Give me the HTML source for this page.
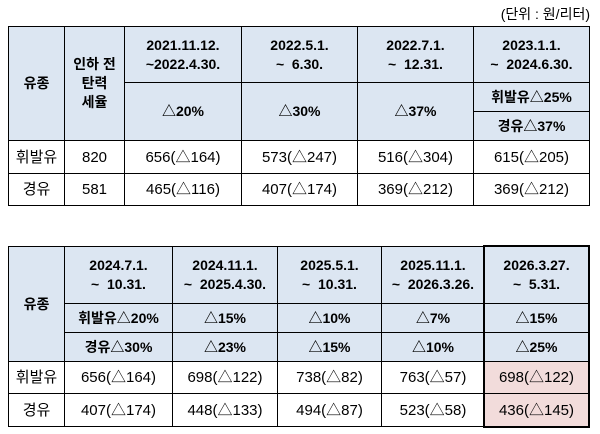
<!DOCTYPE html>
<html><head><meta charset="utf-8"><style>
body{margin:0;width:600px;height:434px;background:#fff;position:relative;font-family:"Liberation Sans","Noto Sans CJK KR","NanumGothic",sans-serif;color:#000;overflow:hidden}
.c{position:absolute;box-sizing:border-box;border:1px solid #000;display:flex;align-items:center;justify-content:center;text-align:center;font-size:15px;line-height:19px}
.h{background:#dce6f2;font-weight:bold;font-size:14px}
.p{background:#f2dcdb}
</style></head><body>
<div style="position:absolute;right:10px;top:4px;font-size:14px">(단위 : 원/리터)</div>

<!-- table 1 -->
<div class="c h" style="left:8px;top:26px;width:57px;height:115px">유종</div>
<div class="c h" style="left:64px;top:26px;width:61px;height:115px">인하 전<br>탄력<br>세율</div>
<div class="c h" style="left:124px;top:26px;width:118px;height:57px">2021.11.12.<br>~2022.4.30.</div>
<div class="c h" style="left:241px;top:26px;width:117px;height:57px">2022.5.1.<br>~&nbsp; 6.30.</div>
<div class="c h" style="left:357px;top:26px;width:117px;height:57px">2022.7.1.<br>~&nbsp; 12.31.</div>
<div class="c h" style="left:473px;top:26px;width:117px;height:57px">2023.1.1.<br>~&nbsp; 2024.6.30.</div>
<div class="c h" style="left:124px;top:82px;width:118px;height:59px">△20%</div>
<div class="c h" style="left:241px;top:82px;width:117px;height:59px">△30%</div>
<div class="c h" style="left:357px;top:82px;width:117px;height:59px">△37%</div>
<div class="c h" style="left:473px;top:82px;width:117px;height:30px">휘발유△25%</div>
<div class="c h" style="left:473px;top:111px;width:117px;height:30px">경유△37%</div>
<div class="c" style="left:8px;top:140px;width:57px;height:34px">휘발유</div>
<div class="c" style="left:64px;top:140px;width:61px;height:34px">820</div>
<div class="c" style="left:124px;top:140px;width:118px;height:34px">656(△164)</div>
<div class="c" style="left:241px;top:140px;width:117px;height:34px">573(△247)</div>
<div class="c" style="left:357px;top:140px;width:117px;height:34px">516(△304)</div>
<div class="c" style="left:473px;top:140px;width:117px;height:34px">615(△205)</div>
<div class="c" style="left:8px;top:173px;width:57px;height:33px">경유</div>
<div class="c" style="left:64px;top:173px;width:61px;height:33px">581</div>
<div class="c" style="left:124px;top:173px;width:118px;height:33px">465(△116)</div>
<div class="c" style="left:241px;top:173px;width:117px;height:33px">407(△174)</div>
<div class="c" style="left:357px;top:173px;width:117px;height:33px">369(△212)</div>
<div class="c" style="left:473px;top:173px;width:117px;height:33px">369(△212)</div>

<!-- table 2 -->
<div class="c h" style="left:8px;top:246px;width:57px;height:116px">유종</div>
<div class="c h" style="left:64px;top:246px;width:109px;height:58px">2024.7.1.<br>~&nbsp; 10.31.</div>
<div class="c h" style="left:172px;top:246px;width:106px;height:58px">2024.11.1.<br>~&nbsp; 2025.4.30.</div>
<div class="c h" style="left:277px;top:246px;width:105px;height:58px">2025.5.1.<br>~&nbsp; 10.31.</div>
<div class="c h" style="left:381px;top:246px;width:104px;height:58px">2025.11.1.<br>~&nbsp; 2026.3.26.</div>
<div class="c h" style="left:484px;top:246px;width:105px;height:58px">2026.3.27.<br>~&nbsp; 5.31.</div>
<div class="c h" style="left:64px;top:303px;width:109px;height:30px">휘발유△20%</div>
<div class="c h" style="left:172px;top:303px;width:106px;height:30px">△15%</div>
<div class="c h" style="left:277px;top:303px;width:105px;height:30px">△10%</div>
<div class="c h" style="left:381px;top:303px;width:104px;height:30px">△7%</div>
<div class="c h" style="left:484px;top:303px;width:105px;height:30px">△15%</div>
<div class="c h" style="left:64px;top:332px;width:109px;height:30px">경유△30%</div>
<div class="c h" style="left:172px;top:332px;width:106px;height:30px">△23%</div>
<div class="c h" style="left:277px;top:332px;width:105px;height:30px">△15%</div>
<div class="c h" style="left:381px;top:332px;width:104px;height:30px">△10%</div>
<div class="c h" style="left:484px;top:332px;width:105px;height:30px">△25%</div>
<div class="c" style="left:8px;top:361px;width:57px;height:33px">휘발유</div>
<div class="c" style="left:64px;top:361px;width:109px;height:33px">656(△164)</div>
<div class="c" style="left:172px;top:361px;width:106px;height:33px">698(△122)</div>
<div class="c" style="left:277px;top:361px;width:105px;height:33px">738(△82)</div>
<div class="c" style="left:381px;top:361px;width:104px;height:33px">763(△57)</div>
<div class="c p" style="left:484px;top:361px;width:105px;height:33px">698(△122)</div>
<div class="c" style="left:8px;top:393px;width:57px;height:34px">경유</div>
<div class="c" style="left:64px;top:393px;width:109px;height:34px">407(△174)</div>
<div class="c" style="left:172px;top:393px;width:106px;height:34px">448(△133)</div>
<div class="c" style="left:277px;top:393px;width:105px;height:34px">494(△87)</div>
<div class="c" style="left:381px;top:393px;width:104px;height:34px">523(△58)</div>
<div class="c p" style="left:484px;top:393px;width:105px;height:34px">436(△145)</div>
<div style="position:absolute;left:483px;top:245px;width:107px;height:183px;box-sizing:border-box;border:2px solid #000"></div>
</body></html>
